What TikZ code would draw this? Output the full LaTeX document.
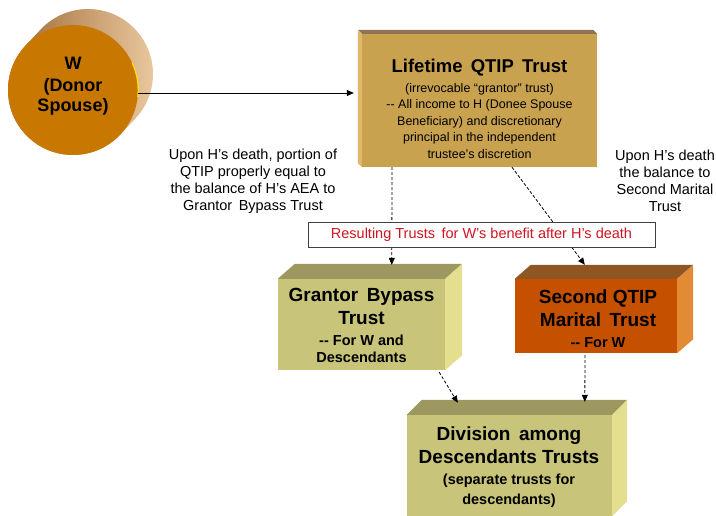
\documentclass[tikz,border=0pt]{standalone}
\usepackage{fontspec}
\setmainfont{Liberation Sans}
\usetikzlibrary{arrows.meta,calc}
\definecolor{wfront}{HTML}{C87800}
\definecolor{wdark}{HTML}{9A6630}
\definecolor{wlight}{HTML}{EDCBA3}
\definecolor{qtfront}{HTML}{C9A250}
\definecolor{qttop}{HTML}{8E7456}
\definecolor{qtleft}{HTML}{E2B66C}
\definecolor{olfront}{HTML}{C8C47A}
\definecolor{oltop}{HTML}{9C985F}
\definecolor{olright}{HTML}{E3DF8E}
\definecolor{orfront}{HTML}{C45000}
\definecolor{ortop}{HTML}{8E5622}
\definecolor{orright}{HTML}{E38A35}
\definecolor{redtxt}{HTML}{D0151F}
\begin{document}
\begin{tikzpicture}[x=1pt,y=-1pt,
  face/.style={rectangle, inner sep=0pt, draw=none},
  txt/.style={align=center, inner sep=0pt, text=black},
  dasharrow/.style={draw=black, line width=0.8pt, dash pattern=on 3pt off 2pt,
     -{Triangle[length=7pt,width=6pt]}},
  note/.style={align=center, inner sep=0pt, font=\fontsize{14.5}{17}\selectfont}
]
\useasboundingbox (0,0) rectangle (716,516);

% ---- W (donor spouse) cylinder
\shade[left color=wdark, right color=wlight]
  (88,74) ++(223.2:65) arc[start angle=223.2, end angle=403.2, radius=65]
  -- ($(73,90)+(43.2:65)$) arc[start angle=43.2, end angle=223.2, radius=65] -- cycle;
\node[circle, fill=wfront, minimum size=130pt, inner sep=0pt] (W) at (73,90) {};
\draw[yellow!80!orange, line width=1.3pt] (W.-6) arc[start angle=6, end angle=-25, radius=65];
\node[txt, font=\fontsize{18}{22}\selectfont\bfseries] (Wt) at (73,86)
  {W\\(Donor\\[-2pt]Spouse)};

% ---- Lifetime QTIP trust
\node[face, fill=qtfront, minimum width=235pt, minimum height=133pt] (QT) at (479.5,100.5) {};
\fill[qttop] (QT.north west) -- ++(-4,-4) -- ($(QT.north east)+(-4,-4)$) -- (QT.north east) -- cycle;
\fill[qtleft] (QT.north west) -- ++(-4,-4) -- ($(QT.south west)+(-4,-4)$) -- (QT.south west) -- cycle;
\node[txt, font=\fontsize{12.5}{16.5}\selectfont] (QTt) at (479.5,109)
  {\fontsize{18.5}{20}\selectfont\bfseries Lifetime\, QTIP\, Trust\\[3pt]
   (irrevocable ``grantor'' trust)\\
   -{}- All income to H (Donee Spouse\\
   Beneficiary) and discretionary\\
   principal in the independent\\
   trustee’s discretion};

% ---- arrow W -> Lifetime
\coordinate (wa) at ([yshift=-3pt]W.east);
\draw[line width=0.7pt, -{Triangle[length=7pt,width=6pt]}, shorten >=8pt] (wa) -- (wa -| QT.west);

% ---- Grantor bypass trust
\node[face, fill=olfront, minimum width=167pt, minimum height=91pt] (GB) at (361.5,324.5) {};
\fill[oltop] (GB.north west) -- ++(17,-15) -- ($(GB.north east)+(17,-15)$) -- (GB.north east) -- cycle;
\fill[olright] (GB.north east) -- ++(17,-15) -- ($(GB.south east)+(17,-15)$) -- (GB.south east) -- cycle;
\node[txt, font=\fontsize{14.5}{23}\selectfont\bfseries] (GBt) at (361.5,325.5)
  {\fontsize{19}{23}\selectfont Grantor\, Bypass\\
   \fontsize{19}{23}\selectfont Trust\\[-2pt]
   -{}- For W and\\[-6pt] Descendants};

% ---- Second QTIP marital trust
\node[face, fill=orfront, minimum width=162pt, minimum height=74pt] (SQ) at (596,316) {};
\fill[ortop] (SQ.north west) -- ++(16,-14) -- ($(SQ.north east)+(16,-14)$) -- (SQ.north east) -- cycle;
\fill[orright] (SQ.north east) -- ++(16,-14) -- ($(SQ.south east)+(16,-14)$) -- (SQ.south east) -- cycle;
\node[txt, font=\fontsize{14.5}{23}\selectfont\bfseries] (SQt) at (598,318.5)
  {\fontsize{19}{23}\selectfont Second QTIP\\
   \fontsize{19}{23}\selectfont Marital\, Trust\\[-2pt]
   -{}- For W};

% ---- Division among descendants trusts
\node[face, fill=olfront, minimum width=205pt, minimum height=101pt] (DV) at (509.5,465.5) {};
\fill[oltop] (DV.north west) -- ++(15,-15) -- ($(DV.north east)+(15,-15)$) -- (DV.north east) -- cycle;
\fill[olright] (DV.north east) -- ++(15,-15) -- ($(DV.south east)+(15,-15)$) -- (DV.south east) -- cycle;
\node[txt, font=\fontsize{14.5}{22}\selectfont\bfseries] (DVt) at (509,467.5)
  {\fontsize{19}{22}\selectfont Division\, among\\[0.5pt]
   \fontsize{19}{22}\selectfont Descendants Trusts\\[-0.5pt]
   (separate trusts for\\[-2pt] descendants)};

% ---- dashed connectors
\draw[dasharrow] ([xshift=-87.5pt]QT.south) -- ([xshift=114pt,yshift=14pt]GB.north west);
\draw[dasharrow] ([xshift=32.5pt]QT.south) -- ([xshift=70pt,yshift=14pt]SQ.north west);
\draw[dasharrow] ([xshift=-6pt,yshift=-2pt]GB.south east) -- ([xshift=51pt,yshift=12pt]DV.north west);
\draw[dasharrow] ([xshift=-11pt,yshift=-2pt]SQ.south) -- ([xshift=178pt,yshift=13pt]DV.north west);

% ---- red label
\node[draw=black!75, line width=0.7pt, fill=white, minimum width=347pt, minimum height=25pt,
      inner sep=0pt, text=redtxt, font=\fontsize{14.5}{16}\selectfont] (RL) at (481.5,234.5)
  {Resulting Trusts\, for W’s benefit after H’s death};

% ---- annotations
\node[note] (NL) at (253,181)
  {Upon H's death, portion of\\ QTIP properly equal to\\ the balance of H's AEA to\\ Grantor\, Bypass Trust};
\node[note] (NR) at (665,181)
  {Upon H's death\\ the balance to\\ Second Marital\\ Trust};
\end{tikzpicture}
\end{document}
